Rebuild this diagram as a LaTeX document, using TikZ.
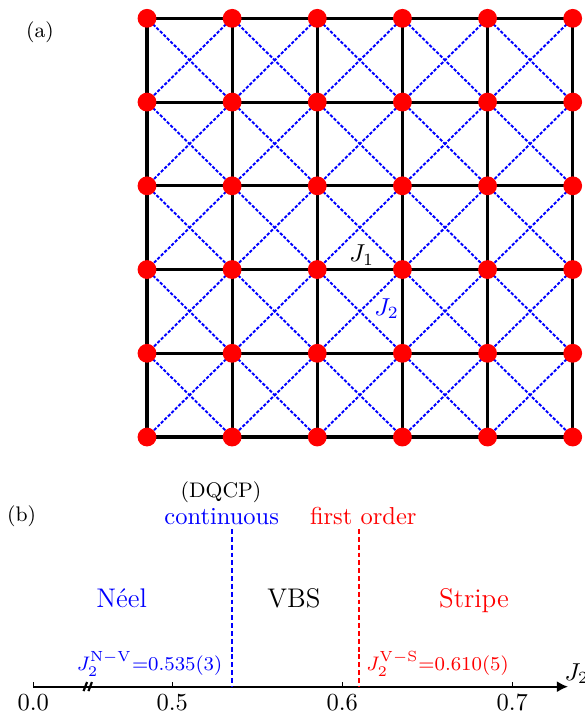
\documentclass[tikz,border=0pt]{standalone}
\usepackage{amsmath}
\usetikzlibrary{positioning,arrows.meta,calc}
\tikzset{
  bond/.style={line width=1.25pt,black},
  diag/.style={line width=0.8pt,blue,dash pattern=on 1.3pt off 0.7pt},
  site/.style={circle,fill=red,inner sep=0pt,minimum size=0.27cm},
  axisln/.style={-{Latex[length=1.6mm,width=1.6mm]},line width=0.8pt},
  tick/.style={line width=0.6pt},
  trans/.style={line width=0.8pt,dash pattern=on 2pt off 1.2pt},
  panel/.style={font=\fontsize{8.6}{10}\selectfont,anchor=base},
  phase/.style={font=\fontsize{11}{13}\selectfont,anchor=base},
  crit/.style={font=\footnotesize,inner sep=0pt},
}
\begin{document}
\begin{tikzpicture}
  \useasboundingbox (-2.109,-3.988) rectangle (6.270,6.270);
  % (a) J1-J2 square lattice
  \begin{scope}[x=1.2215cm,y=1.2014cm]
    \foreach \i in {0,...,5}{\foreach \j in {0,...,5}{
      \coordinate (p-\i-\j) at (\i,\j);}}
    % J2 diagonals
    \foreach \i [evaluate=\i as \ii using int(\i+1)] in {0,...,4}{
      \foreach \j [evaluate=\j as \jj using int(\j+1)] in {0,...,4}{
        \draw[diag] (p-\i-\j) -- (p-\ii-\jj);
        \draw[diag] (p-\ii-\j) -- (p-\i-\jj);}}
    % J1 bonds
    \foreach \k in {0,...,5}{
      \draw[bond] (p-0-\k) -- (p-5-\k);
      \draw[bond] (p-\k-0) -- (p-\k-5);}
    \foreach \i in {0,...,5}{\foreach \j in {0,...,5}{
      \node[site] (s-\i-\j) at (p-\i-\j) {};}}
    \node[anchor=base] (lJ1) at (2.522,2.093) {$J_1$};
    \node[anchor=base,text=blue] (lJ2) at (2.815,1.457) {$J_2$};
  \end{scope}
  \node[panel] (pa) at (-1.535,5.734) {(a)};
  % (b) phase diagram along J2
  \coordinate (ax0) at (-1.631,-3.582);
  \coordinate (ax1) at (6.040,-3.582);
  \draw[axisln] (ax0) -- (ax1);
  \foreach \v/\t [count=\n] in {-1.631/0.0,0.363/0.5,2.802/0.6,5.241/0.7}{
    \draw[tick] (\v,-3.582) -- ++(0,0.07);
    \node[anchor=base] (tk\n) at (\v,-3.917) {\t};}
  % axis break
  \draw[line width=0.9pt] (-0.91,-3.645) -- (-0.86,-3.515);
  \draw[line width=0.9pt] (-0.84,-3.645) -- (-0.79,-3.515);
  \node[anchor=base west,inner sep=0pt] (jaxis) at (5.983,-3.486) {$J_2$};
  % transition lines
  \coordinate (nv-top) at (1.217,-1.320);
  \coordinate (nv-bot) at (1.217,-3.582);
  \coordinate (vs-top) at (3.046,-1.320);
  \coordinate (vs-bot) at (3.046,-3.582);
  \draw[trans,blue] (nv-top) -- (nv-bot);
  \draw[trans,red] (vs-top) -- (vs-bot);
  \node[panel] (pb) at (-1.798,-1.205) {(b)};
  \node[panel] (dqcp) at (1.062,-0.865) {(DQCP)};
  \node[anchor=base,text=blue] (cont) at (1.072,-1.248) {continuous};
  \node[anchor=base,text=red] (first) at (3.103,-1.248) {first order};
  \node[phase,text=blue] (neel) at (-0.363,-2.449) {N\'eel};
  \node[phase] (vbs) at (2.109,-2.449) {VBS};
  \node[phase,text=red] (stripe) at (4.692,-2.449) {Stripe};
  \node[crit,text=blue,anchor=base east] (jnv) at (1.086,-3.343) {$J_2^{\mathrm{N-V}}$=0.535(3)};
  \node[crit,text=red,anchor=base west] (jvs) at (3.142,-3.343) {$J_2^{\mathrm{V-S}}$=0.610(5)};
\end{tikzpicture}
\end{document}
